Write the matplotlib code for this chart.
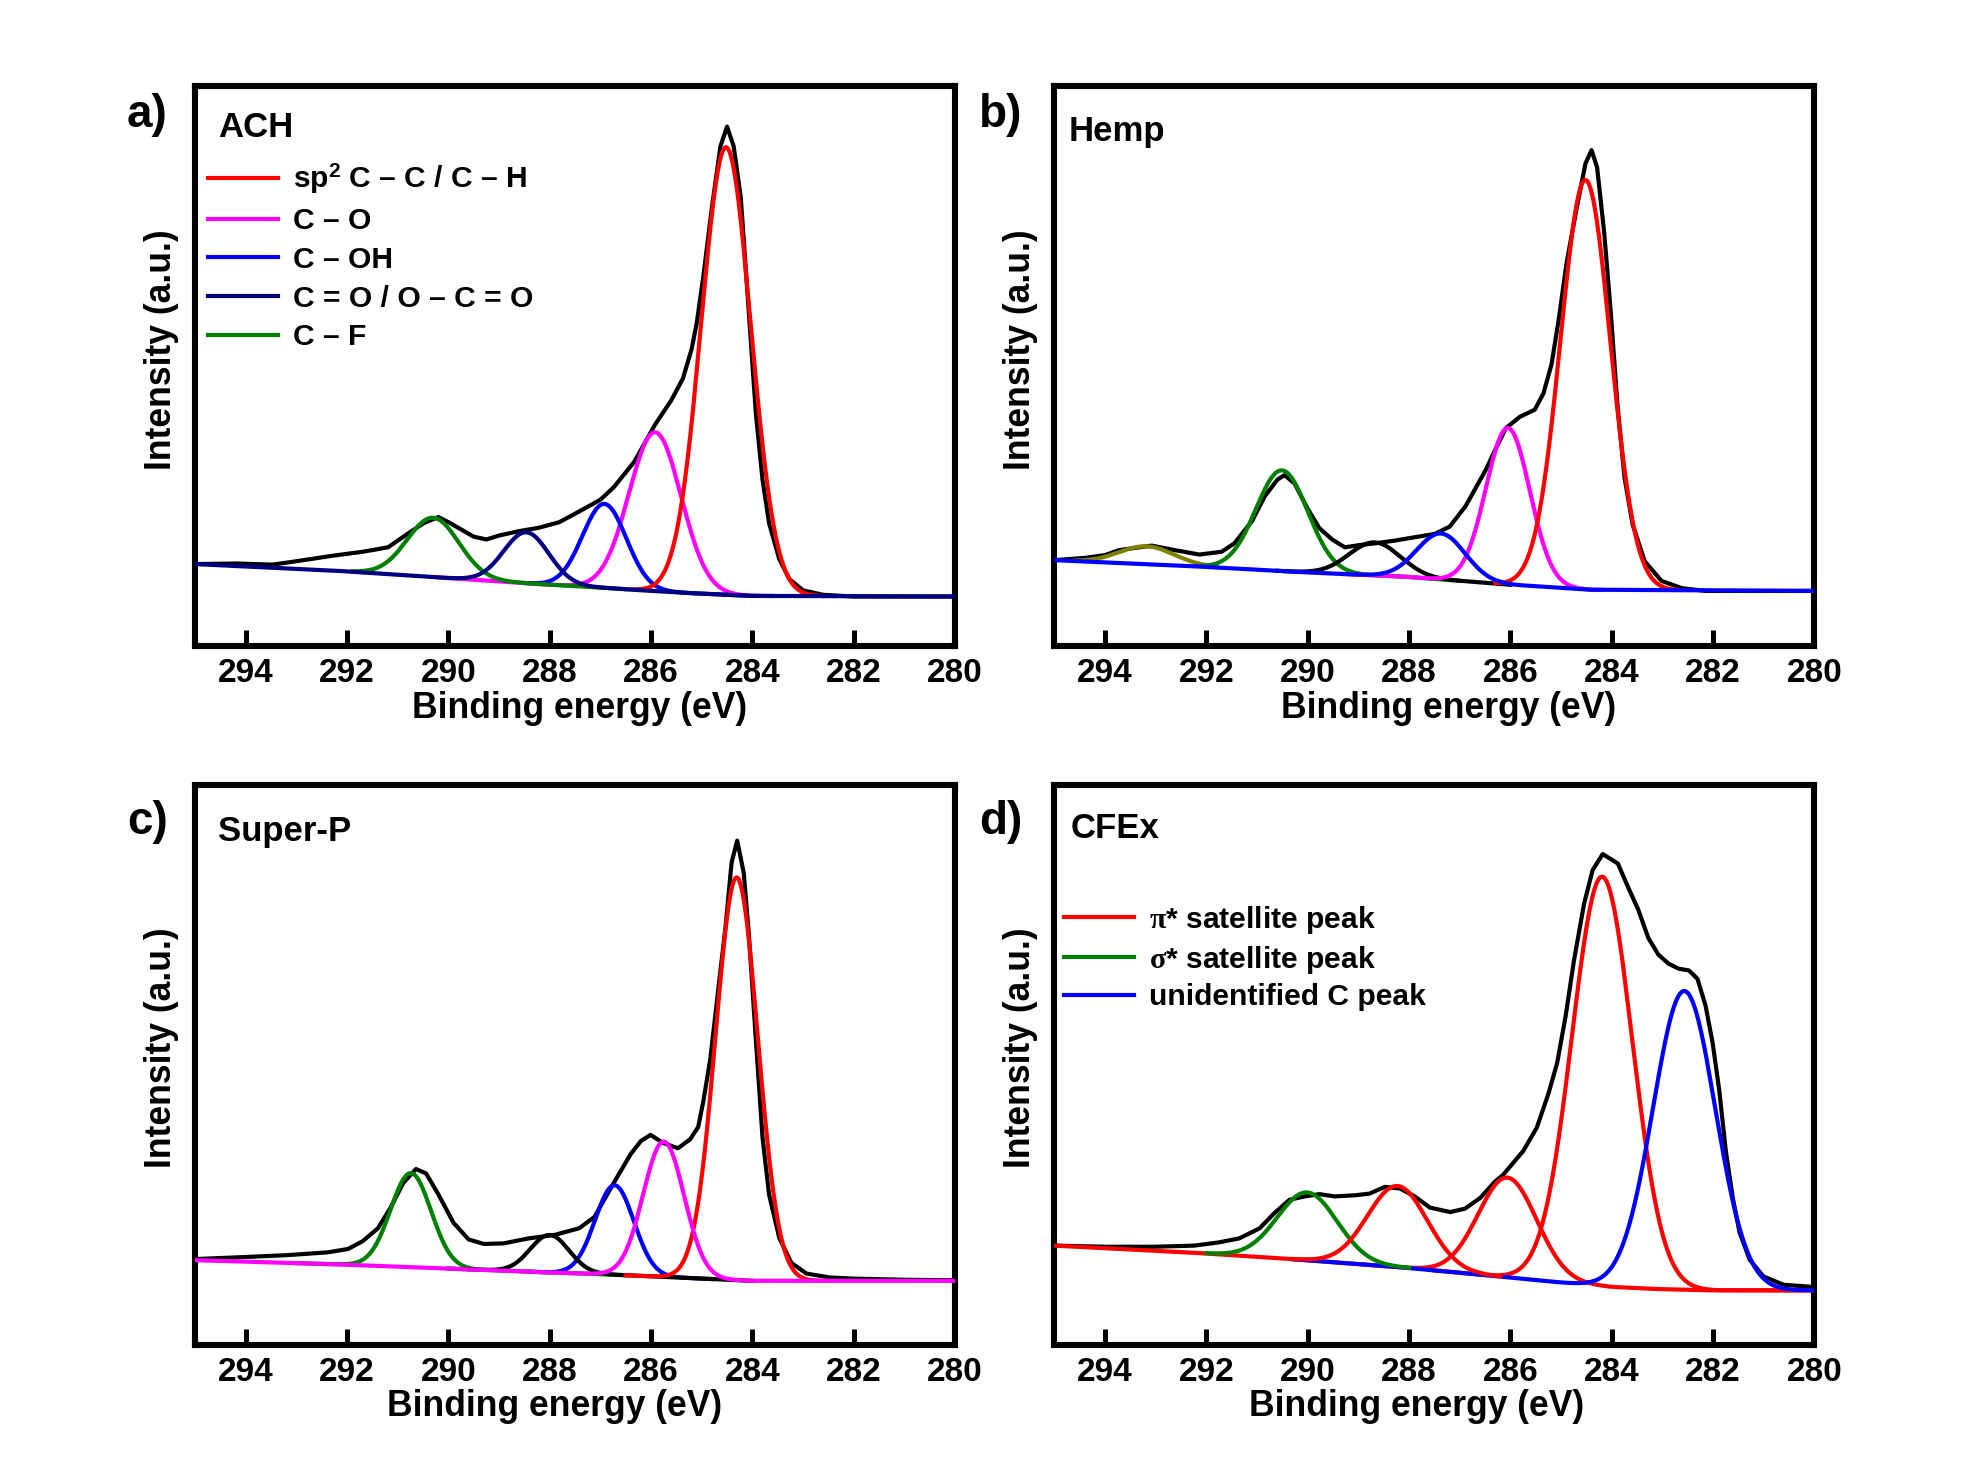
import numpy as np
import matplotlib
matplotlib.use('Agg')
import matplotlib.pyplot as plt
from matplotlib.lines import Line2D

plt.rcParams['font.family'] = ['Liberation Sans', 'DejaVu Sans']
plt.rcParams['font.weight'] = 'bold'
plt.rcParams['mathtext.fontset'] = 'custom'
plt.rcParams['mathtext.rm'] = 'Liberation Serif'
plt.rcParams['mathtext.it'] = 'Liberation Serif:italic'
plt.rcParams['mathtext.bf'] = 'Liberation Serif:bold'
plt.rcParams['mathtext.sf'] = 'Liberation Sans:bold'

# ---------------- data (binding energy eV, intensity a.u.) ----------------
xticks = [294, 292, 290, 288, 286, 284, 282, 280]

# (a) ACH
ach_raw_be = [295.0, 294.17, 293.47, 293.08, 292.28, 291.69, 291.19, 290.79, 290.49, 290.20,
              290.00, 289.75, 289.50, 289.25, 289.00, 288.60, 288.21, 287.81, 287.52, 287.30,
              287.00, 286.73, 286.33, 285.93, 285.60, 285.37, 285.20, 285.10, 284.97, 284.80,
              284.63, 284.50, 284.37, 284.23, 284.13, 284.03, 283.93, 283.80, 283.67, 283.47,
              283.27, 283.00, 282.60, 282.00, 281.00, 280.0]
ach_raw_int = [14.6, 14.7, 14.5, 15.0, 16.1, 16.8, 17.6, 20.1, 21.9, 23.0,
               22.1, 20.8, 19.5, 19.0, 19.7, 20.5, 21.1, 22.1, 23.5, 24.6,
               26.1, 28.4, 32.9, 39.4, 43.9, 47.8, 53.0, 57.6, 65.9, 78.3,
               89.3, 92.8, 89.3, 80.2, 67.3, 54.3, 41.4, 29.7, 21.9, 15.5,
               11.9, 9.9, 9.1, 8.8, 8.8, 8.8]
ach_bg_be = [295, 292, 290, 288, 287, 286, 285, 284, 280]
ach_bg_int = [14.6, 13.3, 12.1, 10.9, 10.4, 9.8, 9.3, 8.9, 8.8]
ach_peak_center = [285.92, 286.92, 284.52, 290.30, 288.46]
ach_peak_height = [28.4, 15.0, 80.0, 10.6, 9.1]
ach_peak_fwhm = [1.21, 1.02, 1.15, 1.20, 1.05]
ach_peak_hi = [290.2, 288.5, 286.4, 291.9, 295.0]
ach_peak_lo = [283.9, 283.6, 282.6, 286.5, 280.0]

# (b) Hemp
hemp_raw_be = [295.0, 294.4, 294.0, 293.72, 293.08, 292.63, 292.14, 291.70, 291.45, 291.10,
               290.85, 290.60, 290.46, 290.26, 290.01, 289.77, 289.52, 289.27, 288.98, 288.68,
               288.28, 287.89, 287.49, 287.20, 286.89, 286.49, 286.25, 286.09, 285.82, 285.52,
               285.35, 285.19, 285.05, 284.89, 284.69, 284.52, 284.40, 284.29, 284.15, 284.02,
               283.89, 283.75, 283.59, 283.35, 283.02, 282.62, 282.15, 281.0, 280.0]
hemp_raw_int = [15.3, 15.7, 16.2, 17.1, 17.9, 17.1, 16.3, 16.8, 18.3, 22.3,
                26.7, 29.7, 30.5, 29.0, 24.6, 21.0, 19.0, 17.6, 18.0, 18.3,
                18.8, 19.4, 20.0, 21.3, 24.9, 31.4, 36.0, 38.9, 40.9, 42.2,
                45.1, 50.3, 58.2, 68.6, 78.4, 86.2, 88.6, 85.5, 73.8, 59.5,
                43.2, 30.1, 21.7, 15.1, 11.6, 10.3, 9.8, 9.8, 9.8]
hemp_bg_be = [295, 292, 290, 288, 286, 285.1, 284.4, 280]
hemp_bg_int = [15.3, 14.1, 13.1, 12.3, 10.9, 10.4, 10.0, 9.8]
hemp_peak_center = [293.18, 290.51, 288.68, 286.05, 284.52, 287.37]
hemp_peak_height = [3.2, 18.0, 5.9, 28.0, 73.2, 8.2]
hemp_peak_fwhm = [1.28, 1.20, 1.19, 1.02, 1.16, 1.12]
hemp_peak_hi = [294.6, 292.2, 290.6, 289.3, 286.3, 295.0]
hemp_peak_lo = [291.8, 287.0, 286.0, 284.2, 282.7, 280.0]

# (c) Super-P
sp_raw_be = [295.0, 294.17, 293.18, 292.38, 291.98, 291.69, 291.39, 291.14, 290.89, 290.64,
             290.44, 290.20, 289.90, 289.60, 289.30, 288.91, 288.41, 287.91, 287.42, 287.12,
             286.73, 286.40, 286.20, 286.01, 285.77, 285.47, 285.23, 285.07, 284.97, 284.83,
             284.67, 284.53, 284.41, 284.30, 284.17, 284.07, 283.93, 283.80, 283.67, 283.47,
             283.23, 282.93, 282.47, 282.0, 281.0, 280.0]
sp_raw_int = [15.3, 15.6, 16.0, 16.5, 17.1, 18.5, 20.8, 24.5, 28.9, 31.4,
              30.6, 26.9, 21.8, 18.8, 18.0, 18.1, 19.0, 19.6, 20.8, 22.8,
              29.0, 34.1, 36.4, 37.5, 36.1, 35.1, 36.7, 38.9, 43.4, 51.1,
              63.8, 74.7, 86.2, 90.1, 84.3, 73.4, 54.3, 37.0, 26.8, 19.1,
              14.6, 12.7, 12.0, 11.8, 11.6, 11.5]
sp_bg_be = [295, 292, 290, 288, 287, 286, 285, 284, 280]
sp_bg_int = [15.1, 14.3, 13.6, 12.9, 12.6, 12.2, 11.8, 11.4, 11.4]
sp_peak_center = [290.74, 286.72, 288.00, 284.31, 285.75]
sp_peak_height = [16.8, 16.0, 6.7, 72.0, 24.2]
sp_peak_fwhm = [0.94, 0.90, 0.90, 0.98, 0.95]
sp_peak_hi = [293.0, 288.4, 290.0, 286.5, 295.0]
sp_peak_lo = [286.5, 284.8, 284.0, 282.5, 280.0]

# (d) CFEx
cf_raw_be = [295.0, 294.02, 293.03, 292.24, 291.74, 291.35, 290.95, 290.66, 290.36, 290.06,
             289.77, 289.47, 289.07, 288.78, 288.48, 288.18, 287.89, 287.59, 287.19, 286.90,
             286.60, 286.30, 286.15, 285.75, 285.48, 285.25, 285.08, 284.91, 284.75, 284.55,
             284.38, 284.18, 283.88, 283.68, 283.48, 283.28, 283.08, 282.88, 282.68, 282.48,
             282.31, 282.15, 282.01, 281.88, 281.75, 281.61, 281.48, 281.28, 281.01, 280.61,
             280.01]
cf_raw_int = [17.7, 17.5, 17.5, 17.7, 18.3, 19.0, 20.8, 23.5, 25.9, 26.5,
              26.9, 26.5, 26.7, 27.0, 28.2, 27.9, 26.5, 24.5, 23.7, 24.3,
              26.2, 29.2, 30.3, 34.6, 38.8, 44.9, 50.3, 58.8, 68.5, 78.7,
              84.8, 87.7, 86.0, 81.8, 77.8, 72.7, 69.7, 68.1, 67.2, 66.9,
              65.4, 60.6, 53.9, 45.5, 34.6, 26.1, 20.1, 15.2, 12.2, 10.7,
              10.3]
cf_bg_be = [295, 292, 290, 288, 286, 285, 284, 283, 282, 280]
cf_bg_int = [17.7, 16.3, 15.1, 13.7, 12.0, 11.1, 10.3, 9.9, 9.7, 9.7]
cf_peak_center = [286.06, 284.19, 282.57, 290.01, 288.23]
cf_peak_height = [17.8, 73.2, 53.4, 12.1, 14.5]
cf_peak_fwhm = [1.36, 1.40, 1.45, 1.39, 1.39]
cf_peak_hi = [295.0, 287.5, 290.3, 292.0, 290.3]
cf_peak_lo = [280.0, 280.0, 280.0, 288.0, 286.2]

panel_letters = ['a)', 'b)', 'c)', 'd)']
sample_names = ['ACH', 'Hemp', 'Super-P', 'CFEx']
ach_legend = ['sp$^{\\mathsf{2}}$ C – C / C – H', 'C – O', 'C – OH', 'C = O / O – C = O', 'C – F']
cf_legend = [r'$\mathrm{\pi}$* satellite peak', r'$\mathrm{\sigma}$* satellite peak', 'unidentified C peak']

# ---------------- styling ----------------
RED, MAG, BLUE, NAVY, GREEN, OLIVE, BLK = '#FF0000', '#FF00FF', '#0000FF', '#000080', '#008000', '#808000', '#000000'
panels = [
    dict(raw=(ach_raw_be, ach_raw_int), bg=(ach_bg_be, ach_bg_int),
         pk=(ach_peak_center, ach_peak_height, ach_peak_fwhm, ach_peak_hi, ach_peak_lo),
         colors=[MAG, BLUE, RED, GREEN, NAVY],
         pos=[0.0991, 0.5625, 0.3862, 0.379], name_xy=(0.030, 0.926),
         letter_xy=(0.0748, 0.922), xlab=(0.506, -0.081)),
    dict(raw=(hemp_raw_be, hemp_raw_int), bg=(hemp_bg_be, hemp_bg_int),
         pk=(hemp_peak_center, hemp_peak_height, hemp_peak_fwhm, hemp_peak_hi, hemp_peak_lo),
         colors=[OLIVE, GREEN, BLK, MAG, RED, BLUE],
         pos=[0.5358, 0.5625, 0.3862, 0.379], name_xy=(0.019, 0.919),
         letter_xy=(0.5085, 0.922), xlab=(0.519, -0.081)),
    dict(raw=(sp_raw_be, sp_raw_int), bg=(sp_bg_be, sp_bg_int),
         pk=(sp_peak_center, sp_peak_height, sp_peak_fwhm, sp_peak_hi, sp_peak_lo),
         colors=[GREEN, BLUE, BLK, RED, MAG],
         pos=[0.0991, 0.0890, 0.3862, 0.379], name_xy=(0.030, 0.917),
         letter_xy=(0.0748, 0.443), xlab=(0.473, -0.080)),
    dict(raw=(cf_raw_be, cf_raw_int), bg=(cf_bg_be, cf_bg_int),
         pk=(cf_peak_center, cf_peak_height, cf_peak_fwhm, cf_peak_hi, cf_peak_lo),
         colors=[RED, RED, BLUE, GREEN, RED],
         pos=[0.5358, 0.0890, 0.3862, 0.379], name_xy=(0.021, 0.922),
         letter_xy=(0.5085, 0.443), xlab=(0.476, -0.080)),
]

fig = plt.figure(figsize=(9.84, 7.38), dpi=200)
axes = []
for i, p in enumerate(panels):
    ax = fig.add_axes(p['pos'])
    axes.append(ax)
    ax.plot(p['raw'][0], p['raw'][1], color='black', lw=1.5, zorder=2)
    bg_be = np.asarray(p['bg'][0], float)[::-1]
    bg_int = np.asarray(p['bg'][1], float)[::-1]
    cen, hgt, fw, hi, lo = p['pk']
    for k in range(len(cen)):
        e = np.linspace(lo[k], hi[k], 600)
        base = np.interp(e, bg_be, bg_int)
        y = base + hgt[k] * np.exp(-4 * np.log(2) * (e - cen[k]) ** 2 / fw[k] ** 2)
        ax.plot(e, y, color=p['colors'][k], lw=1.5, zorder=3)
    ax.set_xlim(295, 280)
    ax.set_ylim(0, 100)
    ax.set_yticks([])
    ax.set_xticks(xticks)
    ax.set_xticklabels([str(t) for t in xticks])
    ax.tick_params(axis='x', direction='in', length=5.6, width=1.8, pad=4.5, labelsize=12)
    for s in ax.spines.values():
        s.set_linewidth(2.2)
    ax.set_xlabel('Binding energy (eV)', fontsize=12.8, fontweight='bold')
    ax.xaxis.set_label_coords(*p['xlab'])
    ax.set_ylabel('Intensity (a.u.)', fontsize=12.8, fontweight='bold')
    ax.yaxis.set_label_coords(-0.021, 0.53)
    ax.text(p['name_xy'][0], p['name_xy'][1], sample_names[i], transform=ax.transAxes,
            ha='left', va='center', fontsize=12.5, fontweight='bold')
    fig.text(p['letter_xy'][0], p['letter_xy'][1], panel_letters[i], ha='center', va='center',
             fontsize=16.5, fontweight='bold')

# legends
leg_kw = dict(loc='upper left', frameon=False, fontsize=10.8, handlelength=2.33,
              handletextpad=0.5, borderpad=0, borderaxespad=0)
h_a = [Line2D([], [], color=c, lw=1.5) for c in [RED, MAG, BLUE, NAVY, GREEN]]
axes[0].legend(h_a, ach_legend, bbox_to_anchor=(0.017, 0.864), labelspacing=0.36, **leg_kw)

h_d = [Line2D([], [], color=c, lw=1.5) for c in [RED, GREEN, BLUE]]
axes[3].legend(h_d, cf_legend, bbox_to_anchor=(0.013, 0.788), labelspacing=0.26, **leg_kw)

fig.savefig('out.png', dpi=200)
